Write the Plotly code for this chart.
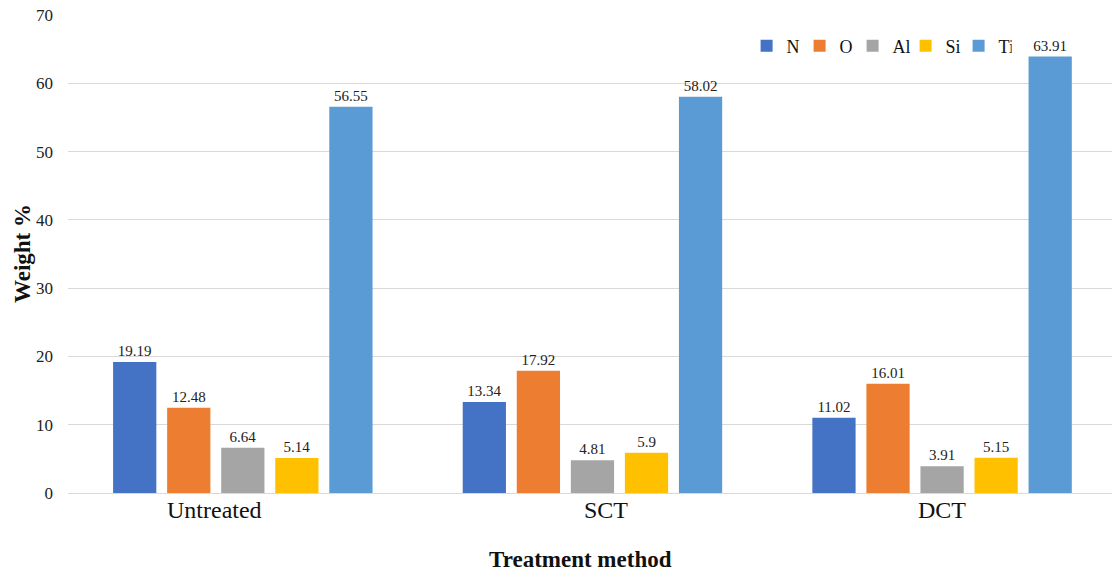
import plotly.graph_objects as go

# Elemental composition (weight %) by treatment method
methods = ["Untreated", "SCT", "DCT"]
elements = ["N", "O", "Al", "Si", "Ti"]
n_vals = [19.19, 13.34, 11.02]
o_vals = [12.48, 17.92, 16.01]
al_vals = [6.64, 4.81, 3.91]
si_vals = [5.14, 5.9, 5.15]
ti_vals = [56.55, 58.02, 63.91]
colors = ["#4472C4", "#ED7D31", "#A5A5A5", "#FFC000", "#5B9BD5"]
y_ticks = [0, 10, 20, 30, 40, 50, 60, 70]

series = [n_vals, o_vals, al_vals, si_vals, ti_vals]
serif = "Liberation Serif, Times New Roman, serif"

fig = go.Figure()
for name, vals, col in zip(elements, series, colors):
    fig.add_trace(go.Bar(
        name=name,
        x=methods,
        y=vals,
        marker=dict(color=col, line=dict(width=0)),
        text=[f"{v:g}" for v in vals],
        textposition="outside",
        textfont=dict(family=serif, size=15, color="#222"),
        cliponaxis=False,
    ))

# category labels, placed as annotations beneath each group
label_offsets = [-0.08, 0.04, 0.0]
for i, (m, off) in enumerate(zip(methods, label_offsets)):
    fig.add_annotation(
        x=i + off, y=0, xref="x", yref="y", yanchor="top", yshift=-2,
        text=m, showarrow=False,
        font=dict(family=serif, size=24, color="#111"),
    )

# axis titles
fig.add_annotation(
    x=0.491, y=-0.14, xref="paper", yref="paper", yanchor="middle",
    text="<b>Treatment method</b>", showarrow=False,
    font=dict(family=serif, size=23, color="#111"),
)
fig.add_annotation(
    x=-0.044, y=0.5, xref="paper", yref="paper", textangle=-90,
    xanchor="center", yanchor="middle",
    text="<b>Weight %</b>", showarrow=False,
    font=dict(family=serif, size=23, color="#111"),
)

fig.update_layout(
    width=1112, height=575,
    margin=dict(l=68, r=0, t=15, b=82),
    plot_bgcolor="white", paper_bgcolor="white",
    barmode="group", bargap=0.227, bargroupgap=0.2,
    showlegend=True,
    legend=dict(
        orientation="h", x=0.65, y=0.935, xanchor="left", yanchor="middle",
        font=dict(family=serif, size=18, color="#111"),
        bgcolor="rgba(0,0,0,0)", itemwidth=30, tracegroupgap=0,
        entrywidth=8, entrywidthmode="pixels",
    ),
    xaxis=dict(
        range=[-0.5, 2.486], showticklabels=False, showgrid=False,
        zeroline=False, showline=False,
    ),
    yaxis=dict(
        range=[0, 70], tickvals=y_ticks, showgrid=True, gridcolor="#d9d9d9",
        gridwidth=1, zeroline=True, zerolinecolor="#d9d9d9", zerolinewidth=1,
        ticks="", ticklabelstandoff=14,
        tickfont=dict(family=serif, size=17, color="#222"),
    ),
)

fig.write_html("out.html")
